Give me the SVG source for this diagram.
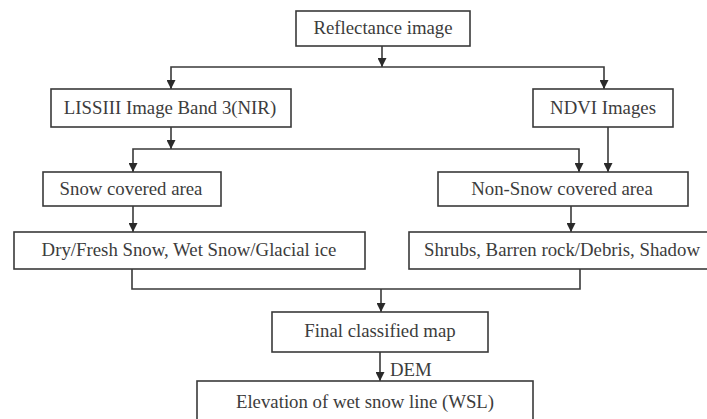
<svg xmlns="http://www.w3.org/2000/svg" width="707" height="419" viewBox="0 0 707 419">
<style>
.box{fill:#fff;stroke:#3a3a3a;stroke-width:1.6}
.t{font-family:"Liberation Serif","Times New Roman",serif;font-size:18.8px;fill:#3c3c3c;text-anchor:middle}
.c{fill:none;stroke:#3a3a3a;stroke-width:1.6}
</style>
<defs>
<marker id="ah" viewBox="0 0 10 10" refX="10" refY="5" markerWidth="9" markerHeight="9" markerUnits="userSpaceOnUse" orient="auto">
<path d="M0,0 L10,5 L0,10 Z" fill="#2a2a2a"/>
</marker>
</defs>
<rect width="707" height="419" fill="#fff"/>
<g id="connectors">
<line class="c" x1="382" y1="46" x2="382" y2="67" marker-end="url(#ah)"/>
<polyline class="c" points="171,88 171,67 604,67 604,88"/>
<line class="c" x1="171" y1="80" x2="171" y2="89" marker-end="url(#ah)"/>
<line class="c" x1="604" y1="80" x2="604" y2="89" marker-end="url(#ah)"/>
<line class="c" x1="171" y1="127" x2="171" y2="149" marker-end="url(#ah)"/>
<polyline class="c" points="133,171 133,149 579,149 579,171"/>
<line class="c" x1="133" y1="163" x2="133" y2="172" marker-end="url(#ah)"/>
<line class="c" x1="579" y1="163" x2="579" y2="172" marker-end="url(#ah)"/>
<line class="c" x1="608" y1="127" x2="608" y2="172" marker-end="url(#ah)"/>
<line class="c" x1="133" y1="206" x2="133" y2="232" marker-end="url(#ah)"/>
<line class="c" x1="571" y1="206" x2="571" y2="232" marker-end="url(#ah)"/>
<polyline class="c" points="132,269 132,289 580,289 580,269"/>
<line class="c" x1="381" y1="289" x2="381" y2="312" marker-end="url(#ah)"/>
<line class="c" x1="380" y1="352" x2="380" y2="381" marker-end="url(#ah)"/>
<text class="t" x="390" y="376" style="text-anchor:start">DEM</text>
</g>
<g id="reflectance">
<rect class="box" x="296" y="11" width="174" height="35"/>
<text class="t" x="383" y="34">Reflectance image</text>
</g>
<g id="liss">
<rect class="box" x="51" y="89" width="240" height="38"/>
<text class="t" x="170" y="114">LISSIII Image Band 3(NIR)</text>
</g>
<g id="ndvi">
<rect class="box" x="533" y="89" width="140" height="38"/>
<text class="t" x="603" y="114">NDVI Images</text>
</g>
<g id="snow">
<rect class="box" x="43" y="172" width="178" height="34"/>
<text class="t" x="131" y="195">Snow covered area</text>
</g>
<g id="nonsnow">
<rect class="box" x="438" y="172" width="250" height="34"/>
<text class="t" x="562" y="195">Non-Snow covered area</text>
</g>
<g id="dry">
<rect class="box" x="14" y="232" width="351" height="37"/>
<text class="t" x="189" y="256">Dry/Fresh Snow, Wet Snow/Glacial ice</text>
</g>
<g id="shrubs">
<rect class="box" x="409" y="232" width="300" height="37"/>
<text class="t" x="562" y="256">Shrubs, Barren rock/Debris, Shadow</text>
</g>
<g id="final">
<rect class="box" x="272" y="312" width="216" height="40"/>
<text class="t" x="380" y="337">Final classified map</text>
</g>
<g id="elevation">
<rect class="box" x="197" y="381" width="336" height="45"/>
<text class="t" x="365" y="408">Elevation of wet snow line (WSL)</text>
</g>
</svg>
